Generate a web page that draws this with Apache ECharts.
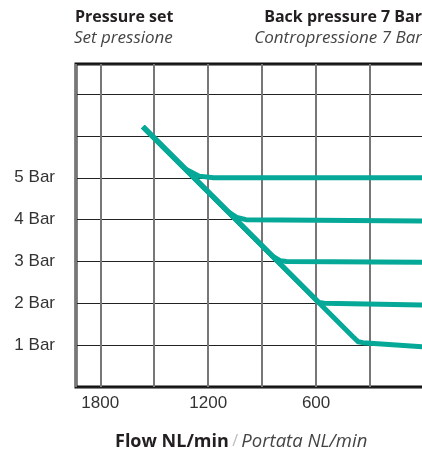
<!DOCTYPE html>
<html>
<head>
<meta charset="utf-8">
<script src="https://cdn.jsdelivr.net/npm/echarts@6/dist/echarts.min.js"></script>
<style>
  html, body { margin: 0; padding: 0; background: #fff; }
  #chart { width: 422px; height: 452px; }
</style>
</head>
<body>
<div id="chart"></div>
<script>
// Flow axis (NL/min), drawn decreasing from left to right
const flowTicks = [1800, 1200, 600];
// Set-pressure levels labelled on the left
const pressureTicks = [1, 2, 3, 4, 5];

// Each curve: flow (NL/min) and downstream pressure (bar)
const flow5 = [1563, 1330, 1250, 1170, 0];
const bar5  = [6.22, 5.22, 5.04, 5.00, 5.00];
const flow4 = [1563, 1090, 1040, 990, 0];
const bar4  = [6.22, 4.19, 4.05, 4.00, 3.97];
const flow3 = [1563, 840, 800, 765, 0];
const bar3  = [6.22, 3.12, 3.02, 3.00, 2.98];
const flow2 = [1563, 615, 585, 555, 0];
const bar2  = [6.22, 2.15, 2.02, 2.00, 1.96];
const flow1 = [1563, 395, 365, 340, 0];
const bar1  = [6.22, 1.20, 1.08, 1.06, 0.96];

const curves = [
  { name: '5 Bar', flow: flow5, bar: bar5 },
  { name: '4 Bar', flow: flow4, bar: bar4 },
  { name: '3 Bar', flow: flow3, bar: bar3 },
  { name: '2 Bar', flow: flow2, bar: bar2 },
  { name: '1 Bar', flow: flow1, bar: bar1 }
];

const teal = '#06a897';
const titleFont = '"Open Sans", "Noto Sans", sans-serif';
const tickFont = '"Liberation Sans", Arial, sans-serif';

const chart = echarts.init(document.getElementById('chart'), null, { renderer: 'canvas' });

chart.setOption({
  animation: false,
  backgroundColor: '#fff',
  grid: {
    left: 76, right: -2, top: 64, bottom: 65,
    outerBoundsMode: 'none',
    containLabel: false,
    show: true, borderColor: '#111', borderWidth: 3, backgroundColor: 'transparent'
  },
  graphic: [
    { type: 'text', left: 75, top: 9, style: { text: 'Pressure set', font: 'bold 16px ' + titleFont, fill: '#231f20' } },
    { type: 'text', left: 74, top: 30, style: { text: 'Set pressione', font: 'italic 17px ' + titleFont, fill: '#444' } },
    { type: 'text', right: 0, top: 9, style: { text: 'Back pressure 7 Bar', font: 'bold 16px ' + titleFont, fill: '#231f20', textAlign: 'right' } },
    { type: 'text', right: 0, top: 30, style: { text: 'Contropressione 7 Bar', font: 'italic 17px ' + titleFont, fill: '#444', textAlign: 'right' } },
    {
      type: 'text', left: 115, top: 432,
      style: {
        text: '{b|Flow NL/min} {s|/} {i|Portata NL/min}',
        rich: {
          b: { font: 'bold 18px ' + titleFont, fill: '#231f20' },
          s: { font: '16px ' + titleFont, fill: '#bbb' },
          i: { font: 'italic 18.5px ' + titleFont, fill: '#444' }
        }
      }
    }
  ],
  xAxis: {
    type: 'value',
    inverse: true,
    min: 0,
    max: 1935,
    interval: 300,
    axisLine: { show: false },
    axisTick: { show: false },
    axisLabel: {
      margin: 8,
      fontFamily: tickFont,
      fontSize: 17,
      color: '#333',
      formatter: v => flowTicks.includes(v) ? String(v) : ''
    },
    splitLine: { show: true, lineStyle: { color: '#777', width: 2 } }
  },
  yAxis: {
    type: 'value',
    min: 0,
    max: 7.72,
    interval: 1,
    axisLine: { show: false },
    axisTick: { show: false },
    axisLabel: {
      margin: 21,
      fontFamily: tickFont,
      fontSize: 17,
      color: '#333',
      formatter: v => pressureTicks.includes(v) ? v + ' Bar' : ''
    },
    splitLine: { show: true, lineStyle: { color: '#222', width: 1.2 } }
  },
  series: curves.map(c => ({
    type: 'line',
    name: c.name,
    data: c.flow.map((f, i) => [f, c.bar[i]]),
    showSymbol: false,
    symbol: 'none',
    lineStyle: { color: teal, width: 5, join: 'round', cap: 'butt' },
    z: 5
  }))
});
</script>
</body>
</html>
